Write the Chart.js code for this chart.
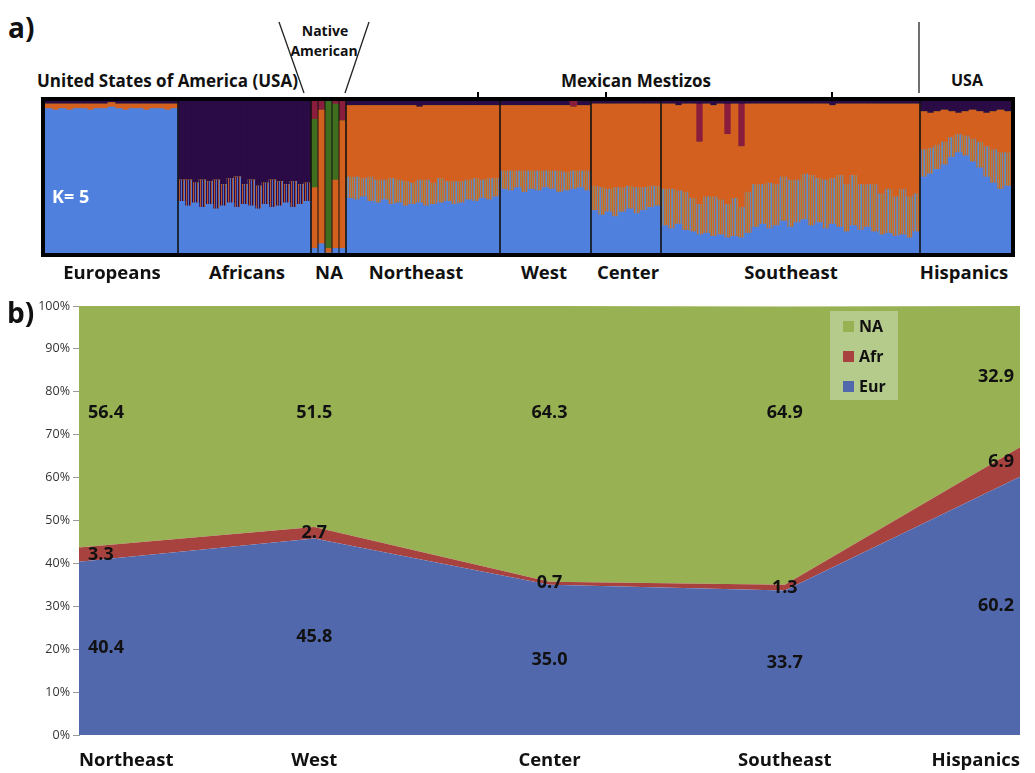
<!DOCTYPE html>
<html>
<head>
<meta charset="utf-8">
<script src="https://cdn.jsdelivr.net/npm/chart.js@4.4.0/dist/chart.umd.min.js"></script>
<style>
  html, body { margin: 0; padding: 0; background: #fff; }
  body { width: 1035px; height: 773px; position: relative; overflow: hidden;
         font-family: 'Open Sans', Lato, sans-serif; font-weight: 700; color: #111; }
  .t { position: absolute; white-space: nowrap; line-height: 1; transform: translate(-50%, -50%); }
  .l { position: absolute; white-space: nowrap; line-height: 1; transform: translate(0, -50%); }
  #frameA { position: absolute; left: 41px; top: 97px; width: 966px; height: 152px; border: 4px solid #000; }
  #admixBox { position: relative; width: 966px; height: 152px; }
  #areaBox { position: absolute; left: 0; top: 290px; width: 1035px; height: 483px; }
  .tick { position: absolute; width: 2px; height: 5px; background: #000; top: 92px; }
</style>
</head>
<body>

<!-- panel a: annotations -->
<div class="l" style="left:8px; top:27px; font-size:28px;">a)</div>
<div class="l" style="left:37px; top:80px; font-size:17px;">United States of America (USA)</div>
<div class="t" style="left:325px; top:31px; font-size:14px;">Native</div>
<div class="t" style="left:324px; top:51px; font-size:14px;">American</div>
<div class="t" style="left:636px; top:80px; font-size:17px;">Mexican Mestizos</div>
<div class="t" style="left:967px; top:80px; font-size:16px;">USA</div>
<svg style="position:absolute; left:0; top:0;" width="1035" height="100">
  <line x1="279" y1="22" x2="304" y2="93" stroke="#222" stroke-width="1.3"/>
  <line x1="369" y1="22" x2="345" y2="93" stroke="#222" stroke-width="1.3"/>
  <line x1="919" y1="22" x2="919" y2="93" stroke="#222" stroke-width="1.3"/>
</svg>
<div class="tick" style="left:477px;"></div>
<div class="tick" style="left:605px;"></div>
<div class="tick" style="left:831px;"></div>

<div id="frameA"><div id="admixBox"><canvas id="admix"></canvas></div></div>
<div class="l" style="left:52px; top:196px; font-size:18px; color:#fff;">K= 5</div>

<div id="groupLabels"></div>

<!-- panel b -->
<div id="areaBox"><canvas id="area"></canvas></div>
<div class="l" style="left:7px; top:312px; font-size:28px;">b)</div>

<script>
// ---------- panel a: K=5 admixture, one bar per column of individuals ----------
const groupNames = ['Europeans', 'Africans', 'NA', 'Northeast', 'West', 'Center', 'Southeast', 'Hispanics'];
const groupCols  = [19, 19, 5, 22, 13, 10, 37, 13];
const groupLabelX = [112, 247, 329, 416, 544, 628, 791, 964];

// ancestry shares per column (%), grouped line by line as in groupNames
const eurShare = [
  95, 94, 95, 94, 95, 95, 94, 95, 95, 96, 95, 94, 95, 95, 94, 95, 95, 94, 95,
  34, 31, 33, 30, 32, 29, 31, 33, 30, 32, 31, 29, 32, 30, 31, 33, 30, 32, 34,
  3, 6, 0, 3, 3,
  36, 35, 37, 34, 33, 35, 32, 33, 31, 32, 33, 31, 32, 33, 34, 32, 33, 35, 34, 36, 35, 37,
  42, 41, 43, 40, 42, 41, 43, 42, 40, 41, 42, 43, 41,
  28, 25, 27, 24, 27, 29, 26, 28, 30, 31,
  18, 16, 19, 15, 14, 12, 13, 11, 12, 10, 11, 10, 13, 17, 19, 16, 18, 21, 17, 20, 22, 18, 20, 16, 19, 17, 14, 18, 15, 17, 14, 12, 13, 11, 12, 10, 14,
  50, 52, 55, 58, 63, 66, 64, 60, 56, 50, 46, 42, 44
];
const mixShare = [
  0, 0, 0, 0, 0, 0, 0, 0, 0, 0, 0, 0, 0, 0, 0, 0, 0, 0, 0,
  14, 17, 13, 18, 15, 19, 14, 16, 20, 13, 17, 15, 14, 18, 16, 12, 17, 13, 12,
  0, 0, 0, 0, 0,
  14, 15, 12, 16, 15, 13, 17, 15, 16, 14, 15, 17, 14, 16, 13, 15, 14, 13, 15, 12, 14, 12,
  12, 13, 11, 14, 12, 13, 11, 12, 14, 12, 12, 11, 13,
  16, 18, 15, 19, 16, 15, 17, 15, 14, 13,
  24, 26, 22, 25, 22, 20, 24, 26, 23, 22, 25, 20, 27, 28, 26, 30, 27, 29, 31, 28, 30, 33, 29, 32, 30, 34, 31, 33, 30, 28, 31, 27, 29, 26, 30, 27, 25,
  18, 17, 16, 15, 13, 12, 13, 15, 17, 20, 22, 24, 22
];
const natShare = [
  3, 4, 3, 4, 3, 3, 4, 3, 3, 3, 3, 4, 3, 3, 4, 3, 3, 4, 3,
  0, 0, 0, 0, 0, 0, 0, 0, 0, 0, 0, 0, 0, 0, 0, 0, 0, 0, 0,
  40, 88, 3, 45, 84,
  47, 47, 48, 47, 49, 49, 48, 49, 50, 51, 48, 49, 51, 48, 50, 50, 50, 49, 48, 49, 48, 48,
  43, 43, 43, 43, 43, 43, 43, 43, 43, 44, 42, 43, 43,
  54, 55, 56, 55, 55, 54, 55, 55, 54, 54,
  56, 56, 56, 58, 62, 41, 61, 60, 63, 46, 62, 40, 58, 53, 53, 52, 53, 48, 50, 50, 46, 47, 49, 50, 48, 47, 53, 47, 53, 53, 53, 59, 56, 61, 56, 61, 59,
  25, 23, 22, 21, 17, 14, 16, 19, 20, 22, 25, 28, 27
];
const grnShare = [
  0, 0, 0, 0, 0, 0, 0, 0, 0, 0, 0, 0, 0, 0, 0, 0, 0, 0, 0,
  0, 0, 0, 0, 0, 0, 0, 0, 0, 0, 0, 0, 0, 0, 0, 0, 0, 0, 0,
  45, 0, 97, 50, 0,
  0, 0, 0, 0, 0, 0, 0, 0, 0, 0, 0, 0, 0, 0, 0, 0, 0, 0, 0, 0, 0, 0,
  0, 0, 0, 0, 0, 0, 0, 0, 0, 0, 0, 0, 0,
  0, 0, 0, 0, 0, 0, 0, 0, 0, 0,
  0, 0, 0, 0, 0, 0, 0, 0, 0, 0, 0, 0, 0, 0, 0, 0, 0, 0, 0, 0, 0, 0, 0, 0, 0, 0, 0, 0, 0, 0, 0, 0, 0, 0, 0, 0, 0,
  0, 0, 0, 0, 0, 0, 0, 0, 0, 0, 0, 0, 0
];
const marShare = [
  0, 0, 0, 0, 0, 0, 0, 0, 0, 0, 0, 0, 0, 0, 0, 0, 0, 0, 0,
  0, 0, 0, 0, 0, 0, 0, 0, 0, 0, 0, 0, 0, 0, 0, 0, 0, 0, 0,
  12, 6, 0, 2, 13,
  0, 0, 0, 0, 0, 0, 0, 0, 0, 0, 0, 0, 0, 0, 0, 0, 0, 0, 0, 0, 0, 0,
  0, 0, 0, 0, 0, 0, 0, 0, 0, 0, 4, 0, 0,
  0, 0, 0, 0, 0, 0, 0, 0, 0, 0,
  0, 0, 0, 0, 0, 25, 0, 0, 0, 20, 0, 28, 0, 0, 0, 0, 0, 0, 0, 0, 0, 0, 0, 0, 0, 0, 0, 0, 0, 0, 0, 0, 0, 0, 0, 0, 0,
  0, 0, 0, 0, 0, 0, 0, 0, 0, 0, 0, 0, 0
];
const afrShare = [
  2, 2, 2, 2, 2, 2, 2, 2, 2, 1, 2, 2, 2, 2, 2, 2, 2, 2, 2,
  52, 52, 54, 52, 53, 52, 55, 51, 50, 55, 52, 56, 54, 52, 53, 55, 53, 55, 54,
  0, 0, 0, 0, 0,
  3, 3, 3, 3, 3, 3, 3, 3, 3, 3, 4, 3, 3, 3, 3, 3, 3, 3, 3, 3, 3, 3,
  3, 3, 3, 3, 3, 3, 3, 3, 3, 3, 3, 3, 3,
  2, 2, 2, 2, 2, 2, 2, 2, 2, 2,
  2, 2, 3, 2, 2, 2, 2, 3, 2, 2, 2, 2, 2, 2, 2, 2, 2, 2, 2, 2, 2, 2, 2, 2, 3, 2, 2, 2, 2, 2, 2, 2, 2, 2, 2, 2, 2,
  7, 8, 7, 6, 7, 8, 7, 6, 7, 8, 7, 6, 7
];

// ---------- panel b: mean ancestry per region ----------
const regions = ['Northeast', 'West', 'Center', 'Southeast', 'Hispanics'];
const eurPct = [40.4, 45.8, 35.0, 33.7, 60.2];
const afrPct = [3.3, 2.7, 0.7, 1.3, 6.9];
const naPct  = [56.4, 51.5, 64.3, 64.9, 32.9];

// --- group labels under panel a
const labelHost = document.getElementById('groupLabels');
groupNames.forEach((name, i) => {
  const d = document.createElement('div');
  d.className = 't';
  d.style.cssText = `left:${groupLabelX[i]}px; top:272px; font-size:18.5px;`;
  d.textContent = name;
  labelHost.appendChild(d);
});

// which group each column belongs to
const colGroup = [];
groupCols.forEach((n, g) => { for (let k = 0; k < n; k++) colGroup.push(g); });
const colLabels = colGroup.map((g, k) => groupNames[g] + ' ' + k);

const admixCanvas = document.getElementById('admix');
const actx = admixCanvas.getContext('2d');

// streaky fill for the blended band between components
function stripes(colors) {
  const c = document.createElement('canvas');
  c.width = colors.length; c.height = 4;
  const g = c.getContext('2d');
  colors.forEach((col, i) => { g.fillStyle = col; g.fillRect(i, 0, 1, 4); });
  return actx.createPattern(c, 'repeat');
}
const mestizoMix = stripes(['#d4601f', '#8e8a6c', '#c9682c', '#6d86b4', '#d0632a', '#7f8c82', '#5f86c8', '#c66a34', '#8e8a6c']);
const africanMix = stripes(['#2b0b45', '#b4562c', '#3a1a58', '#4f70c2', '#2b0b45', '#a35030', '#5a7ac8']);

const groupLines = {
  id: 'groupLines',
  afterDatasetsDraw(chart) {
    const { ctx, chartArea, scales: { x } } = chart;
    ctx.save();
    ctx.strokeStyle = '#111';
    let k = 0;
    groupCols.forEach((n, g) => {
      // NA populations are separated column by column
      if (groupNames[g] === 'NA') {
        for (let j = 1; j < n; j++) {
          const px = (x.getPixelForValue(k + j - 1) + x.getPixelForValue(k + j)) / 2;
          ctx.lineWidth = 1;
          ctx.beginPath(); ctx.moveTo(px, chartArea.top); ctx.lineTo(px, chartArea.bottom); ctx.stroke();
        }
      }
      k += n;
      if (k >= colGroup.length) return;
      const px = (x.getPixelForValue(k - 1) + x.getPixelForValue(k)) / 2;
      ctx.lineWidth = 1.6;
      ctx.beginPath(); ctx.moveTo(px, chartArea.top); ctx.lineTo(px, chartArea.bottom); ctx.stroke();
    });
    ctx.restore();
  }
};

const bar = (label, data, color) => ({
  label, data, backgroundColor: color, borderWidth: 0,
  barPercentage: 1, categoryPercentage: 1, stack: 'k5'
});

new Chart(admixCanvas, {
  type: 'bar',
  data: {
    labels: colLabels,
    datasets: [
      bar('Eur', eurShare, '#4f80dd'),
      bar('mix', mixShare, (c) => groupNames[colGroup[c.dataIndex]] === 'Africans' ? africanMix : mestizoMix),
      bar('NA', natShare, '#d4601f'),
      bar('NA2', grnShare, '#3e6e1e'),
      bar('NA3', marShare, '#8a1d3d'),
      bar('Afr', afrShare, '#2b0b45')
    ]
  },
  options: {
    responsive: true, maintainAspectRatio: false, animation: false, devicePixelRatio: 1,
    layout: { padding: 0 },
    scales: {
      x: { display: false, stacked: true },
      y: { display: false, stacked: true, min: 0, max: 100 }
    },
    plugins: { legend: { display: false }, tooltip: { enabled: false } }
  },
  plugins: [groupLines]
});

// ---------- panel b chart ----------
const valueLabels = {
  id: 'valueLabels',
  afterDatasetsDraw(chart) {
    const { ctx, chartArea, scales: { x, y } } = chart;
    ctx.save();
    ctx.font = 'bold 18px "Open Sans", sans-serif';
    ctx.fillStyle = '#111';
    ctx.textAlign = 'center';
    ctx.textBaseline = 'middle';
    regions.forEach((r, i) => {
      const e = eurPct[i], a = afrPct[i], n = naPct[i];
      const spots = [[e, e / 2], [a, e + a / 2], [n, Math.max(e + a + n / 2, 75)]];
      spots.forEach(([v, at]) => {
        const txt = v.toFixed(1);
        const w = ctx.measureText(txt).width;
        let px = x.getPixelForValue(i);
        px = Math.min(Math.max(px, chartArea.left + 9 + w / 2), chartArea.right - 6 - w / 2);
        ctx.fillText(txt, px, y.getPixelForValue(at));
      });
    });
    ctx.restore();
  }
};

const boxLegend = {
  id: 'boxLegend',
  afterDraw(chart) {
    const { ctx, chartArea } = chart;
    const bx = chartArea.right - 190, by = chartArea.top + 5;
    ctx.save();
    ctx.fillStyle = '#b5cb8c';
    ctx.fillRect(bx, by, 68, 89);
    ctx.font = 'bold 16px "Open Sans", sans-serif';
    ctx.textBaseline = 'middle';
    chart.data.datasets.slice().reverse().forEach((ds, k) => {
      const cy = by + 15 + k * 30;
      ctx.fillStyle = ds.backgroundColor;
      ctx.fillRect(bx + 13, cy - 5, 11, 11);
      ctx.fillStyle = '#111';
      ctx.fillText(ds.label, bx + 29, cy + 1);
    });
    ctx.restore();
  }
};

const area = (label, data, color, fill) => ({
  label, data, backgroundColor: color, borderColor: 'rgba(0,0,0,0)', borderWidth: 0,
  pointRadius: 0, tension: 0, fill
});

new Chart(document.getElementById('area'), {
  type: 'line',
  data: {
    labels: regions,
    datasets: [
      area('Eur', eurPct, '#5268ad', 'origin'),
      area('Afr', afrPct, '#a8423e', '-1'),
      area('NA', naPct, '#98b253', '-1')
    ]
  },
  options: {
    responsive: true, maintainAspectRatio: false, animation: false, devicePixelRatio: 1,
    layout: { padding: { top: 16, left: 0, right: 0, bottom: 0 } },
    scales: {
      x: {
        offset: false,
        grid: { display: false, drawTicks: false },
        border: { display: false },
        ticks: { align: 'inner', padding: 15, maxRotation: 0, autoSkip: false, color: '#111',
                 font: { family: '"Open Sans", sans-serif', size: 18.5, weight: 'bold' } },
        afterFit: (s) => { s.height = 38; }
      },
      y: {
        stacked: true, min: 0, max: 100,
        grid: { drawOnChartArea: false, tickLength: 6, color: '#9a9a9a' },
        border: { display: true, color: '#9a9a9a' },
        ticks: { stepSize: 10, padding: 3, color: '#333', callback: (v) => v + '%',
                 font: { family: '"Open Sans", sans-serif', size: 12.5 } },
        afterFit: (s) => { s.width = 79; }
      }
    },
    plugins: { legend: { display: false }, tooltip: { enabled: false } }
  },
  plugins: [valueLabels, boxLegend]
});
</script>
</body>
</html>
